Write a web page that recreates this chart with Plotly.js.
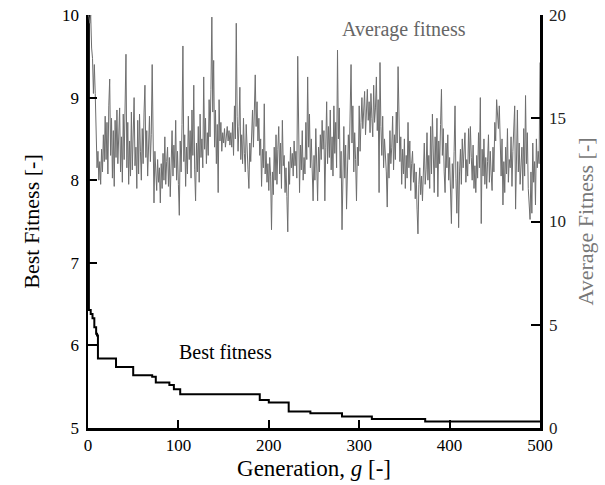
<!DOCTYPE html>
<html>
<head>
<meta charset="utf-8">
<script src="https://cdn.plot.ly/plotly-3.0.1.min.js"></script>
<style>html,body{margin:0;padding:0;background:#fff;}#chart{width:605px;height:485px;}</style>
</head>
<body>
<div id="chart"></div>
<script>
// Average fitness per generation (0..500)
const avgFitness = [
  20.0, 19.9, 19.6, 20.0, 18.4, 17.9, 16.2, 17.6, 16.2, 13.6,
  12.6, 13.4, 12.0, 12.9, 11.8, 13.5, 12.4, 14.2, 12.9, 15.1,
  13.0, 14.8, 12.3, 15.6, 16.9, 13.2, 15.0, 12.1, 14.4, 11.7,
  14.9, 13.1, 15.4, 12.8, 14.6, 15.5, 12.4, 14.1, 11.9, 15.2,
  13.0, 15.7, 18.1, 12.6, 14.8, 11.8, 13.9, 12.2, 15.3, 12.5,
  14.1, 16.0, 12.7, 13.6, 11.6, 14.9, 12.3, 15.2, 13.4, 12.0,
  14.5, 12.8, 15.3, 16.6, 13.1, 14.4, 12.2, 13.8, 15.1, 12.9,
  14.2, 17.6, 12.3, 10.9, 13.4, 12.1, 11.5, 13.0, 11.9, 12.6,
  10.9, 12.8, 11.6, 13.3, 12.0, 14.1, 11.8, 12.9, 13.6, 11.7,
  13.1, 11.2, 12.8, 14.4, 12.2, 13.7, 12.6, 14.9, 12.0, 13.4,
  11.8, 10.3, 13.9, 12.4, 14.7, 18.5, 12.9, 14.2, 11.7, 13.6,
  12.3, 15.1, 13.0, 14.4, 12.1, 15.4, 13.2, 16.6, 12.5, 11.0,
  13.8, 12.4, 14.6, 11.9, 15.2, 13.1, 14.0, 12.6, 17.0, 13.5,
  15.0, 12.8, 14.3, 13.2, 15.9, 14.1, 16.4, 19.9, 15.3, 17.8,
  13.6, 15.4, 12.8, 14.7, 11.4, 15.9, 13.9, 14.8, 13.4, 14.3,
  13.8, 14.5, 13.6, 14.2, 14.6, 13.9, 14.4, 13.7, 14.3, 13.6,
  14.8, 13.2, 15.6, 14.0, 19.6, 15.1, 13.4, 14.6, 16.5, 13.0,
  14.2, 12.8, 15.0, 13.3, 12.4, 14.7, 13.1, 12.5, 11.6, 13.8,
  12.9, 14.4, 15.4, 13.6, 16.1, 17.1, 14.6, 15.8, 13.9, 15.0,
  13.2, 14.0, 11.7, 13.5, 12.6, 15.7, 12.3, 13.4, 11.9, 12.8,
  11.5, 13.1, 12.2, 9.6, 12.4, 11.3, 13.6, 12.0, 14.2, 11.8,
  13.5, 14.6, 12.3, 13.8, 11.6, 14.9, 12.7, 13.2, 11.4, 12.6,
  11.2, 9.5, 12.9, 11.8, 13.6, 12.6, 13.3, 12.2, 13.9, 12.7,
  13.4, 12.1, 18.0, 14.2, 11.4, 13.7, 12.5, 14.4, 12.0, 13.1,
  12.3, 14.8, 13.0, 17.0, 13.6, 15.2, 12.6, 14.0, 11.9, 11.0,
  13.2, 12.0, 14.5, 12.7, 11.0, 13.6, 12.4, 14.2, 13.0, 14.9,
  13.5, 14.4, 11.0, 13.6, 15.8, 12.8, 14.6, 13.1, 15.4, 12.5,
  14.1, 12.2, 15.6, 13.3, 14.8, 12.6, 18.3, 14.0, 15.5, 12.1,
  13.4, 9.6, 12.8, 14.6, 12.1, 13.7, 10.6, 12.9, 14.2, 13.0,
  15.1, 17.6, 13.8, 15.6, 12.4, 14.3, 13.0, 11.0, 13.6, 12.7,
  15.6, 13.4, 14.8, 16.0, 14.5, 15.4, 16.3, 14.2, 15.7, 16.4,
  14.9, 15.8, 14.3, 16.2, 15.0, 14.1, 16.6, 14.8, 15.5, 17.0,
  14.4, 15.9, 11.4, 17.7, 14.6, 13.2, 15.1, 12.6, 14.0, 13.1,
  12.4, 10.7, 13.3, 12.1, 14.4, 12.8, 13.6, 15.1, 12.5, 14.2,
  13.0, 15.3, 13.8, 17.5, 14.6, 12.9, 14.1, 11.8, 13.5, 12.3,
  14.0, 11.6, 13.2, 12.1, 14.8, 12.6, 13.9, 11.5, 12.8, 13.4,
  11.9, 12.8, 11.1, 12.4, 10.6, 9.4, 11.8, 12.6, 11.3, 12.2,
  11.0, 12.9, 13.8, 11.8, 12.5, 14.3, 12.0, 13.2, 11.6, 14.6,
  12.3, 15.2, 13.0, 11.4, 14.1, 12.6, 15.0, 11.2, 13.9, 12.8,
  14.7, 16.4, 13.2, 14.5, 12.4, 11.4, 13.8, 12.6, 14.2, 12.0,
  13.1, 11.2, 9.9, 12.8, 11.6, 13.4, 15.6, 12.1, 10.4, 12.9,
  9.7, 12.4, 13.5, 11.8, 14.0, 12.6, 13.2, 14.3, 11.9, 13.0,
  12.2, 14.5, 12.8, 14.6, 13.1, 12.0, 13.7, 11.6, 12.7, 11.4,
  13.2, 12.1, 14.3, 12.6, 16.0, 9.9, 13.5, 12.2, 14.0, 11.8,
  13.1, 11.6, 12.9, 14.2, 11.9, 13.4, 12.3, 11.5, 13.6, 12.4,
  14.8, 13.9, 15.9, 15.2, 14.5, 15.6, 13.4, 12.2, 14.0, 10.8,
  12.9, 11.4, 13.6, 12.3, 14.5, 11.9, 13.0, 12.6, 14.1, 11.7,
  13.4, 14.8, 15.6, 10.6, 13.2, 15.4, 12.4, 13.8, 11.8, 12.9,
  13.6, 11.5, 14.5, 12.2, 16.1, 12.8, 14.3, 11.6, 10.7, 10.1,
  12.4, 10.4, 13.8, 11.9, 12.9, 10.8, 14.0, 12.6, 13.4, 12.8,
  17.7
];
const generations = avgFitness.map((_, i) => i);

// Best fitness: generations where it changes, and its value
const bestGen = [0, 1, 3, 5, 7, 9, 10, 11, 31, 50, 71, 75, 90, 95, 102, 190, 200, 222, 246, 281, 314, 373, 500];
const bestVal = [10.0, 6.43, 6.38, 6.33, 6.22, 6.14, 6.12, 5.84, 5.74, 5.64, 5.62, 5.55, 5.52, 5.47, 5.41, 5.34, 5.31, 5.20, 5.18, 5.14, 5.11, 5.08, 5.08];

const xTicks = [0, 100, 200, 300, 400, 500];
const leftTicks = [5, 6, 7, 8, 9, 10];
const rightTicks = [0, 5, 10, 15, 20];

const serif = "'Liberation Serif', 'Times New Roman', serif";

const traces = [
  {
    x: generations, y: avgFitness, yaxis: 'y2', type: 'scatter', mode: 'lines',
    line: {color: '#6e6e6e', width: 1}, hoverinfo: 'skip'
  },
  {
    x: bestGen, y: bestVal, yaxis: 'y', type: 'scatter', mode: 'lines',
    line: {color: '#000000', width: 2, shape: 'hv'}, hoverinfo: 'skip'
  }
];

const layout = {
  width: 605, height: 485,
  margin: {l: 88, r: 65, t: 15, b: 57},
  paper_bgcolor: '#ffffff', plot_bgcolor: '#ffffff',
  showlegend: false,
  font: {family: serif, color: '#000', size: 17},
  xaxis: {
    range: [0, 500], tickvals: xTicks, ticktext: xTicks.map(String),
    showgrid: false, zeroline: false, showline: true, linecolor: '#000', linewidth: 2.5,
    ticks: 'inside', ticklen: 8, tickwidth: 2, tickcolor: '#000',
    tickfont: {family: serif, size: 17, color: '#000'},
    title: {text: 'Generation, <i>g</i> [-]', font: {family: serif, size: 23, color: '#000'}, standoff: 6}
  },
  yaxis: {
    range: [5, 10], tickvals: leftTicks, ticktext: leftTicks.map(String),
    showgrid: false, zeroline: false, showline: true, linecolor: '#000', linewidth: 2.5,
    ticks: 'inside', ticklen: 9, tickwidth: 2, tickcolor: '#000', ticklabelstandoff: 3,
    tickfont: {family: serif, size: 17, color: '#000'},
    title: {text: 'Best Fitness [-]', font: {family: serif, size: 22, color: '#000'}, standoff: 17}
  },
  yaxis2: {
    range: [0, 20], tickvals: rightTicks, ticktext: rightTicks.map(String),
    overlaying: 'y', side: 'right',
    showgrid: false, zeroline: false, showline: true, linecolor: '#000', linewidth: 2.5,
    ticks: 'inside', ticklen: 9, tickwidth: 2, tickcolor: '#000', ticklabelstandoff: 3,
    tickfont: {family: serif, size: 17, color: '#222'},
    title: {text: 'Average Fitness [-]', font: {family: serif, size: 22, color: '#777'}, standoff: 13}
  },
  annotations: [
    {text: 'Average fitness', x: 0.70, y: 0.966, xref: 'paper', yref: 'paper', showarrow: false,
     font: {family: serif, size: 20, color: '#666'}, xanchor: 'center', yanchor: 'middle'},
    {text: 'Best fitness', x: 0.305, y: 0.184, xref: 'paper', yref: 'paper', showarrow: false,
     font: {family: serif, size: 20, color: '#000'}, xanchor: 'center', yanchor: 'middle'}
  ]
};

Plotly.newPlot('chart', traces, layout, {staticPlot: true, displayModeBar: false});
</script>
</body>
</html>
